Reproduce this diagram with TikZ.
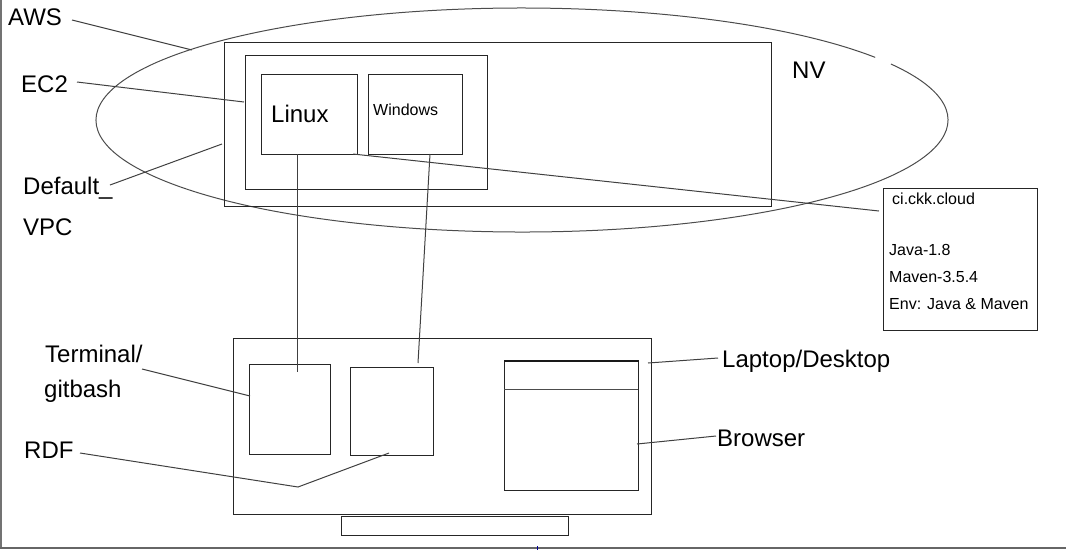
\documentclass[tikz,border=0pt]{standalone}
\usepackage{fontspec}
\setmainfont{Liberation Sans}
\begin{document}
\begin{tikzpicture}[x=1pt,y=-1pt,
  box/.style={draw=black!85, line width=1pt, inner sep=0pt, anchor=north west},
  conn/.style={draw=black!75, line width=1pt},
  biglab/.style={anchor=base west, inner sep=0pt, font=\fontsize{24}{28}\selectfont},
  smalllab/.style={anchor=base west, inner sep=0pt, font=\fontsize{16}{19}\selectfont}]
\useasboundingbox (0,0) rectangle (1066,550);
% frame lines
\draw[black!55, line width=1.2pt] (1,0) -- (1,547);
\draw[black!60, line width=2.5pt] (0,548) -- (1066,548);
\draw[blue!60!black, line width=1pt] (537,546) -- (537,550);
% ellipse (with gap near NV)
\draw[black!70, line width=1pt] ({522+426*cos(34)},{120-112*sin(34)})
  arc[start angle=34, end angle=390, x radius=426pt, y radius=112pt];
% boxes
\node[box, minimum width=547, minimum height=164] (vpc) at (224,42) {};
\node[box, minimum width=242, minimum height=134] (ec2) at (245,55) {};
\node[box, minimum width=96, minimum height=80] (linux) at (261,74) {};
\node[box, minimum width=94, minimum height=80] (win) at (368,74) {};
\node[box, minimum width=154, minimum height=142] (ci) at (883,188) {};
\node[box, minimum width=418, minimum height=176] (laptop) at (233,338) {};
\node[box, minimum width=81, minimum height=90] (term) at (249,364) {};
\node[box, minimum width=83, minimum height=88] (rdp) at (350,367) {};
\node[box, minimum width=134, minimum height=129] (browser) at (504,361) {};
\node[box, minimum width=227, minimum height=19] (stand) at (341,516) {};
\draw[black!90, line width=2pt] (browser.north west) -- (browser.north east);
\coordinate (bbarL) at (504,389);
\coordinate (bbarR) at (638,389);
\draw[black!70, line width=1pt] (bbarL) -- (bbarR);
% texts
\node[biglab] (aws) at (8,25) {AWS};
\node[biglab] (ec2t) at (21,92) {EC2};
\node[biglab] (dvpc) at (23,194) {Default\_};
\node[biglab] (vpct) at (23,235) {VPC};
\node[biglab] (linuxt) at (271,122) {Linux};
\node[smalllab] (wint) at (373,115) {Windows};
\node[biglab] (nv) at (792,78) {NV};
\node[smalllab] (cit) at (892,204) {ci.ckk.cloud};
\node[smalllab] (java) at (889,255) {Java-1.8};
\node[smalllab] (maven) at (889,282) {Maven-3.5.4};
\node[smalllab] (env) at (889,309) {Env: Java \& Maven};
\node[biglab] (termt) at (45,362) {Terminal/};
\node[biglab] (git) at (44,397) {gitbash};
\node[biglab] (rdf) at (24,458) {RDF};
\node[biglab] (lapt) at (722,367) {Laptop/Desktop};
\node[biglab] (brt) at (717,446) {Browser};
% connector end points
\coordinate (a1) at (72,20);   \coordinate (a2) at (192,50);
\coordinate (e1) at (77,82);   \coordinate (e2) at (244,102);
\coordinate (d1) at (110,185); \coordinate (d2) at (222,144);
\coordinate (l1) at (353,154); \coordinate (l2) at (879,211);
\coordinate (l3) at (297,154); \coordinate (l4) at (297,372);
\coordinate (w1) at (430,154); \coordinate (w2) at (418,363);
\coordinate (t1) at (142,369); \coordinate (t2) at (250,396);
\coordinate (r1) at (80,453);  \coordinate (r2) at (298,487); \coordinate (r3) at (389,453);
\coordinate (p1) at (648,363); \coordinate (p2) at (718,358);
\coordinate (b1) at (637,444); \coordinate (b2) at (716,436);
% connectors
\draw[conn] (a1) -- (a2);
\draw[conn] (e1) -- (e2);
\draw[conn] (d1) -- (d2);
\draw[conn] (l1) -- (l2);
\draw[conn] (l3) -- (l4);
\draw[conn] (w1) -- (w2);
\draw[conn] (t1) -- (t2);
\draw[conn] (r1) -- (r2) -- (r3);
\draw[conn] (p1) -- (p2);
\draw[conn] (b1) -- (b2);
\end{tikzpicture}
\end{document}
